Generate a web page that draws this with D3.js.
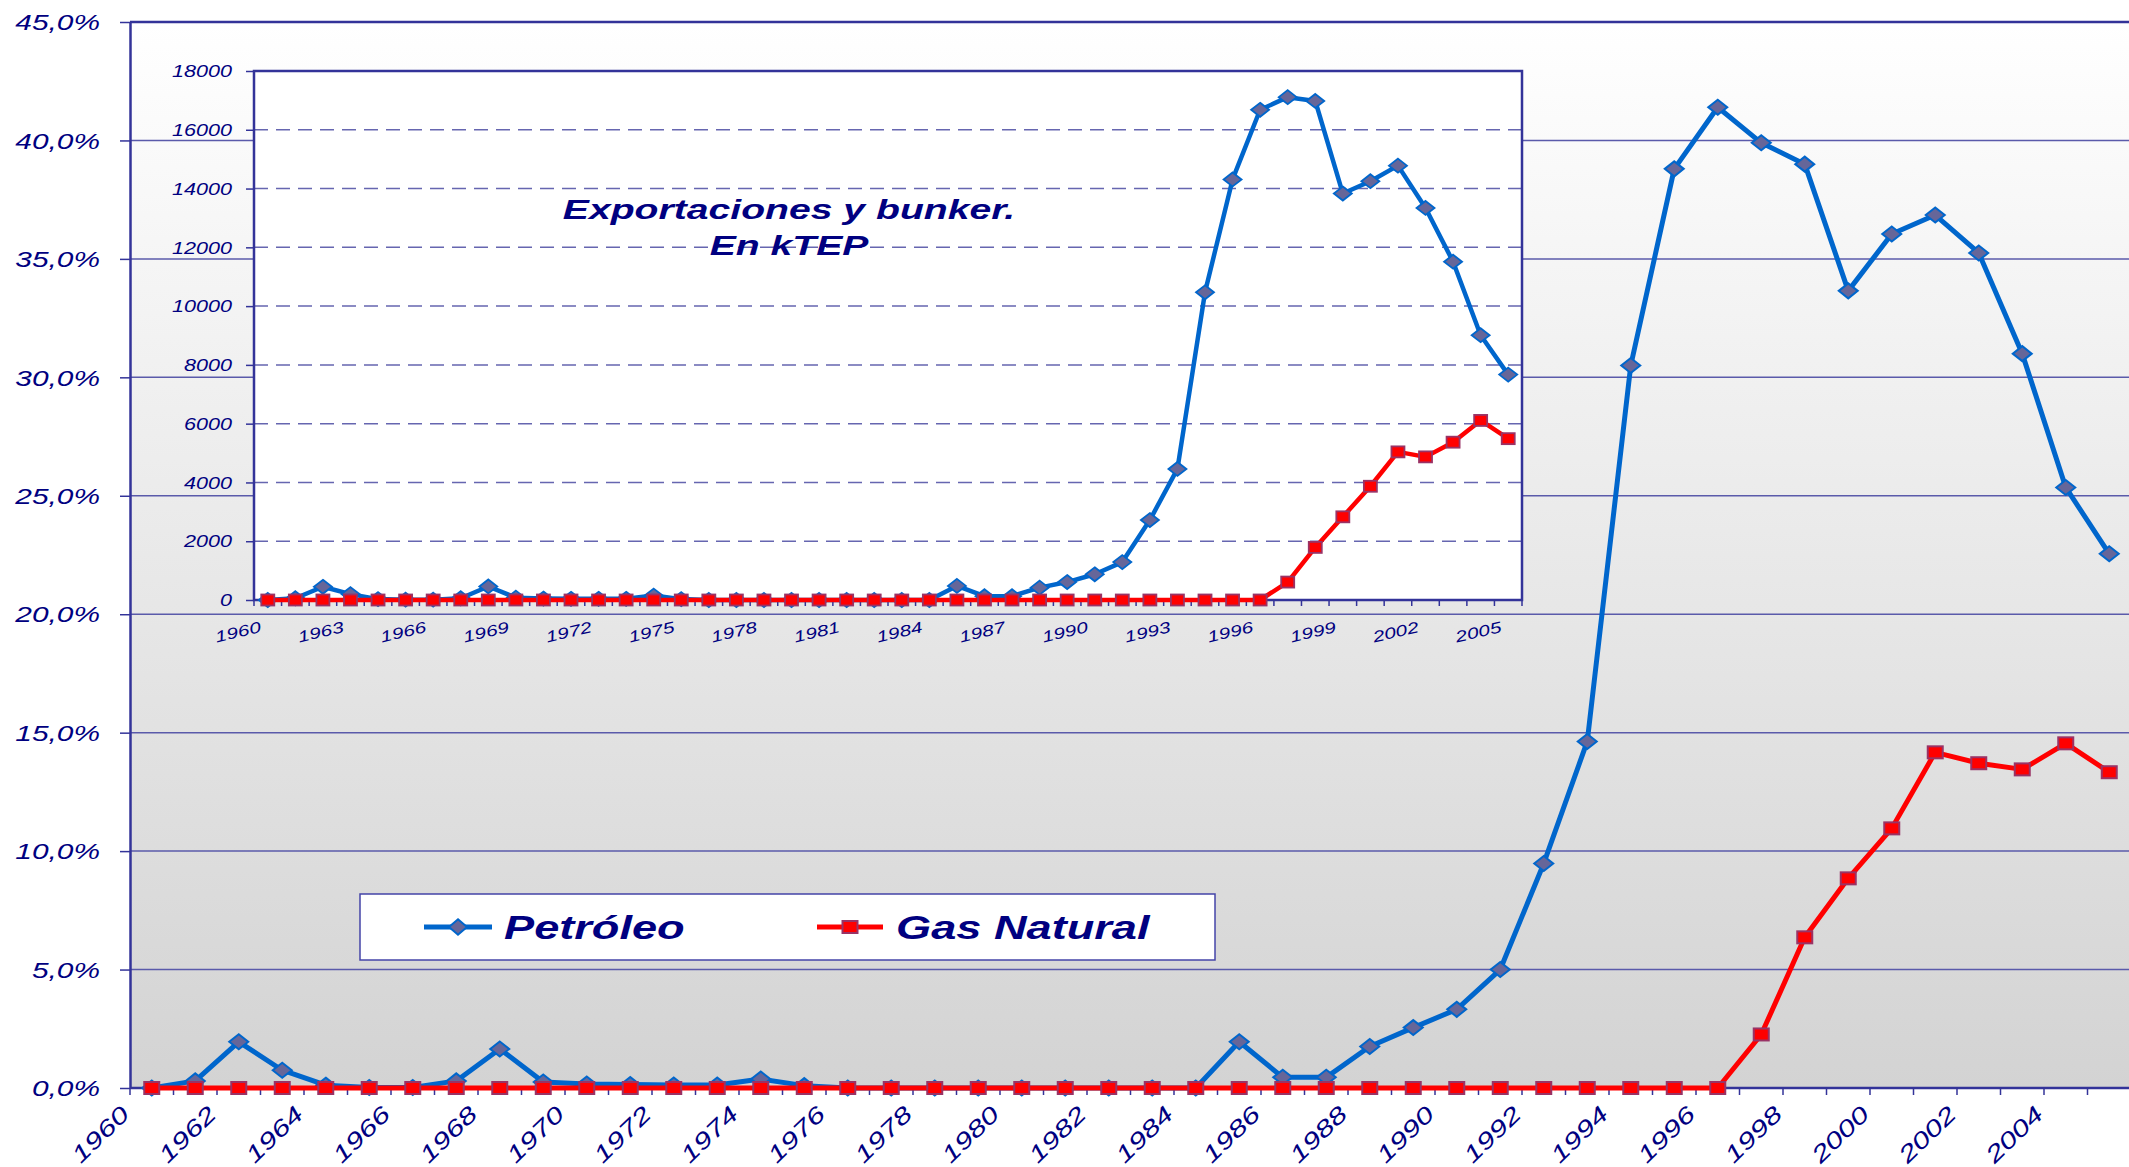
<!DOCTYPE html>
<html><head><meta charset="utf-8">
<script src="https://cdn.jsdelivr.net/npm/d3@7"></script>
<style>
html,body{margin:0;padding:0;background:#fff;}
svg{display:block;}
text{font-family:"Liberation Sans",Arial,sans-serif;}
</style></head><body>
<svg id="chart" width="2129" height="1167"></svg>
<script>
// ---------------- DATA ----------------
const years = [1960,1961,1962,1963,1964,1965,1966,1967,1968,1969,
  1970,1971,1972,1973,1974,1975,1976,1977,1978,1979,
  1980,1981,1982,1983,1984,1985,1986,1987,1988,1989,
  1990,1991,1992,1993,1994,1995,1996,1997,1998,1999,
  2000,2001,2002,2003,2004,2005];
// Main chart (%)
const petroleoPct = [0.0,0.3,1.95,0.75,0.12,0.02,0.02,0.3,1.65,0.25,
  0.17,0.15,0.13,0.13,0.38,0.1,0.0,0.0,0.0,0.0,
  0.0,0.0,0.0,0.0,0.0,1.95,0.45,0.45,1.75,2.55,
  3.32,5.0,9.48,14.63,30.5,38.8,41.4,39.9,39.0,33.65,
  36.05,36.85,35.25,31.0,25.35,22.55];
const gasPct = [0,0,0,0,0,0,0,0,0,0,
  0,0,0,0,0,0,0,0,0,0,
  0,0,0,0,0,0,0,0,0,0,
  0,0,0,0,0,0,0,2.26,6.36,8.85,
  10.96,14.17,13.71,13.45,14.55,13.33];
// Inset chart (kTEP)
const petroleoKtep = [0,60,450,200,30,10,10,60,460,80,
  50,40,40,40,150,30,0,0,0,0,
  0,0,0,0,0,480,130,130,420,610,
  875,1290,2720,4460,10470,14310,16680,17110,16980,13830,
  14250,14780,13340,11510,9010,7670];
const gasKtep = [0,0,0,0,0,0,0,0,0,0,
  0,0,0,0,0,0,0,0,0,0,
  0,0,0,0,0,0,0,0,0,0,
  0,0,0,0,0,0,0,610,1790,2830,
  3870,5040,4870,5370,6110,5490];
const pctTicks = [0,5,10,15,20,25,30,35,40,45];
const ktepTicks = [0,2000,4000,6000,8000,10000,12000,14000,16000,18000];
const mainXLabels = [1960,1962,1964,1966,1968,1970,1972,1974,1976,1978,1980,
  1982,1984,1986,1988,1990,1992,1994,1996,1998,2000,2002,2004];
const insetXLabels = [1960,1963,1966,1969,1972,1975,1978,1981,1984,1987,1990,
  1993,1996,1999,2002,2005];
const seriesNames = ["Petróleo","Gas Natural"];
const insetTitle = ["Exportaciones y bunker.","En kTEP"];

// ---------------- STYLE ----------------
const NAVY = "#000080", AXIS = "#333399", GRID = "#5a5aaa";
const BLUE = "#0066cc", RED = "#ff0000";
const DIA_FILL = "#666699", SQ_STROKE = "#993366";
const SX = 1.39; // horizontal stretch of the reference's text

const svg = d3.select("#chart");
const defs = svg.append("defs");
const grad = defs.append("linearGradient").attr("id","bg").attr("x1",0).attr("y1",0).attr("x2",0).attr("y2",1);
grad.append("stop").attr("offset","0%").attr("stop-color","#ffffff");
grad.append("stop").attr("offset","100%").attr("stop-color","#d3d3d3");

const diamond = (w,h) => `M0,${-h}L${w},0L0,${h}L${-w},0Z`;

// ---------------- MAIN SCALES ----------------
const M = {left:130, right:2131, top:22, bottom:1088};
const x = d3.scaleBand().domain(years).range([M.left, M.right]).padding(0);
const y = d3.scaleLinear().domain([0,45]).range([M.bottom, M.top]);
const cx = yr => x(yr) + x.bandwidth()/2;

svg.append("rect").attr("x",M.left).attr("y",M.top)
  .attr("width",M.right-M.left).attr("height",M.bottom-M.top).attr("fill","url(#bg)");

// gridlines
svg.append("g").selectAll("line").data(pctTicks.filter(d=>d>0 && d<45)).join("line")
  .attr("x1",M.left).attr("x2",M.right).attr("y1",d=>y(d)).attr("y2",d=>y(d))
  .attr("stroke",GRID).attr("stroke-width",1.5);

// ---------------- INSET ----------------
const I = {left:254, right:1522, top:71, bottom:600};
const xi = d3.scaleBand().domain(years).range([I.left, I.right]).padding(0);
const yi = d3.scaleLinear().domain([0,18000]).range([I.bottom, I.top]);
const cxi = yr => xi(yr) + xi.bandwidth()/2;

const gi = svg.append("g");
gi.append("rect").attr("x",I.left).attr("y",I.top).attr("width",I.right-I.left)
  .attr("height",I.bottom-I.top).attr("fill","#fff");
gi.append("g").selectAll("line").data(ktepTicks.filter(d=>d>0 && d<18000)).join("line")
  .attr("x1",I.left).attr("x2",I.right).attr("y1",d=>yi(d)).attr("y2",d=>yi(d))
  .attr("stroke","#6666b0").attr("stroke-width",1.5).attr("stroke-dasharray","14,8");

// inset y axis
const yAxisI = d3.axisLeft(yi).tickValues(ktepTicks).tickSize(8).tickSizeOuter(0).tickFormat(d3.format("d"));
const gyi = gi.append("g").attr("transform",`translate(${I.left},0)`).call(yAxisI);
gyi.select(".domain").remove();
gyi.selectAll(".tick line").attr("stroke",AXIS).attr("stroke-width",1.5);
gyi.selectAll(".tick text").attr("x",null).attr("dy","0.36em")
  .attr("transform","translate(-22,0) scale(1.35,1)")
  .attr("fill",NAVY).attr("font-size",16).attr("font-style","italic")
  .attr("font-family","Liberation Sans, Arial, sans-serif").attr("text-anchor","end");

// inset x ticks at category boundaries
const bndI = years.map(yr=>xi(yr)).concat([xi.range()[1]]);
gi.append("g").selectAll("line").data(bndI).join("line")
  .attr("x1",d=>d).attr("x2",d=>d).attr("y1",I.bottom).attr("y2",I.bottom+6)
  .attr("stroke",AXIS).attr("stroke-width",1.5);
gi.append("g").selectAll("text").data(insetXLabels).join("text")
  .attr("transform",d=>`translate(${cxi(d)-6},632) rotate(-13) scale(1.35,1)`)
  .attr("text-anchor","end").attr("fill",NAVY).attr("font-size",15.5).attr("font-style","italic")
  .text(d=>d);

// inset border
gi.append("rect").attr("x",I.left).attr("y",I.top).attr("width",I.right-I.left)
  .attr("height",I.bottom-I.top).attr("fill","none").attr("stroke",AXIS).attr("stroke-width",2.5);

// inset lines
const lineI = d3.line().x((d,i)=>cxi(years[i])).y(d=>yi(d));
gi.append("path").attr("d",lineI(petroleoKtep)).attr("fill","none").attr("stroke",BLUE)
  .attr("stroke-width",4.5).attr("stroke-linejoin","round");
gi.append("g").selectAll("path").data(petroleoKtep).join("path")
  .attr("transform",(d,i)=>`translate(${cxi(years[i])},${yi(d)})`)
  .attr("d",diamond(9,7)).attr("fill",DIA_FILL).attr("stroke",BLUE).attr("stroke-width",1.8);
gi.append("path").attr("d",lineI(gasKtep)).attr("fill","none").attr("stroke",RED)
  .attr("stroke-width",4.5).attr("stroke-linejoin","round");
gi.append("g").selectAll("rect").data(gasKtep).join("rect")
  .attr("x",(d,i)=>cxi(years[i])-6.5).attr("y",d=>yi(d)-5.5).attr("width",13).attr("height",11)
  .attr("fill",RED).attr("stroke",SQ_STROKE).attr("stroke-width",1.8);

// inset title
gi.append("g").selectAll("text").data(insetTitle).join("text")
  .attr("transform",(d,i)=>`translate(789,${i===0?219:255}) scale(1.45,1)`)
  .attr("text-anchor","middle").attr("fill",NAVY).attr("font-size",27)
  .attr("font-weight","bold").attr("font-style","italic").text(d=>d);

// ---------------- MAIN AXES ----------------
const fmtPct = d => d3.format(".1f")(d).replace(".",",") + "%";
const yAxis = d3.axisLeft(y).tickValues(pctTicks).tickSize(10).tickSizeOuter(0).tickFormat(fmtPct);
const gy = svg.append("g").attr("transform",`translate(${M.left},0)`).call(yAxis);
gy.select(".domain").attr("stroke",AXIS).attr("stroke-width",2.5);
gy.selectAll(".tick line").attr("stroke",AXIS).attr("stroke-width",1.5);
gy.selectAll(".tick text").attr("x",null).attr("dy","0.36em")
  .attr("transform",`translate(-30,0) scale(${SX},1)`)
  .attr("fill",NAVY).attr("font-size",21.5).attr("font-style","italic")
  .attr("font-family","Liberation Sans, Arial, sans-serif").attr("text-anchor","end");

// top border & x axis
svg.append("line").attr("x1",M.left).attr("x2",M.right).attr("y1",M.top).attr("y2",M.top)
  .attr("stroke",AXIS).attr("stroke-width",2.5);
svg.append("line").attr("x1",M.left).attr("x2",M.right).attr("y1",M.bottom).attr("y2",M.bottom)
  .attr("stroke",AXIS).attr("stroke-width",2.5);
const bnd = years.map(yr=>x(yr)).concat([x.range()[1]]);
svg.append("g").selectAll("line").data(bnd).join("line")
  .attr("x1",d=>d).attr("x2",d=>d).attr("y1",M.bottom).attr("y2",M.bottom+7)
  .attr("stroke",AXIS).attr("stroke-width",1.5);
svg.append("g").selectAll("text").data(mainXLabels).join("text")
  .attr("transform",d=>`translate(${cx(d)-21},1116) rotate(-44) scale(1.36,1)`)
  .attr("text-anchor","end").attr("fill",NAVY).attr("font-size",23).attr("font-style","italic")
  .text(d=>d);

// ---------------- MAIN LINES ----------------
const line = d3.line().x((d,i)=>cx(years[i])).y(d=>y(d));
svg.append("path").attr("d",line(petroleoPct)).attr("fill","none").attr("stroke",BLUE)
  .attr("stroke-width",5).attr("stroke-linejoin","round");
svg.append("g").selectAll("path").data(petroleoPct).join("path")
  .attr("transform",(d,i)=>`translate(${cx(years[i])},${y(d)})`)
  .attr("d",diamond(9.5,7.5)).attr("fill",DIA_FILL).attr("stroke",BLUE).attr("stroke-width",2);
svg.append("path").attr("d",line(gasPct)).attr("fill","none").attr("stroke",RED)
  .attr("stroke-width",5).attr("stroke-linejoin","round");
svg.append("g").selectAll("rect").data(gasPct).join("rect")
  .attr("x",(d,i)=>cx(years[i])-7.5).attr("y",d=>y(d)-6).attr("width",15).attr("height",12)
  .attr("fill",RED).attr("stroke",SQ_STROKE).attr("stroke-width",2);

// ---------------- LEGEND ----------------
const lg = svg.append("g");
lg.append("rect").attr("x",360).attr("y",894).attr("width",855).attr("height",66)
  .attr("fill","#fff").attr("stroke","#4444a8").attr("stroke-width",1.5);
const legendItems = [
  {name:seriesNames[0], color:BLUE, x0:424, x1:492, text:504, marker:"d"},
  {name:seriesNames[1], color:RED,  x0:817, x1:883, text:896, marker:"s"}
];
legendItems.forEach(it=>{
  lg.append("line").attr("x1",it.x0).attr("x2",it.x1).attr("y1",927).attr("y2",927)
    .attr("stroke",it.color).attr("stroke-width",5);
  const mx = (it.x0+it.x1)/2;
  if(it.marker==="d"){
    lg.append("path").attr("transform",`translate(${mx},927)`).attr("d",diamond(9,7.8))
      .attr("fill",DIA_FILL).attr("stroke",BLUE).attr("stroke-width",2);
  } else {
    lg.append("rect").attr("x",mx-7.5).attr("y",921).attr("width",15).attr("height",12)
      .attr("fill",RED).attr("stroke",SQ_STROKE).attr("stroke-width",2);
  }
  lg.append("text").attr("transform",`translate(${it.text},939) scale(${SX},1)`)
    .attr("fill",NAVY).attr("font-size",32.5).attr("font-weight","bold").attr("font-style","italic")
    .text(it.name);
});
</script>
</body></html>
